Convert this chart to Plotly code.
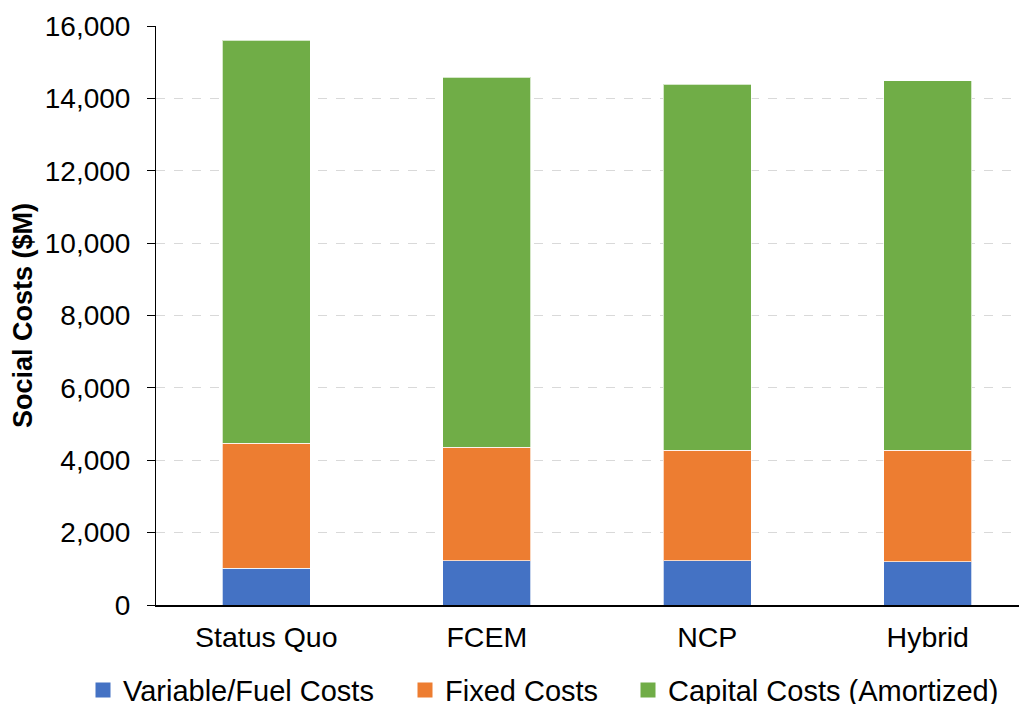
import plotly.graph_objects as go

categories = ["Status Quo", "FCEM", "NCP", "Hybrid"]
variable_fuel = [1015, 1225, 1225, 1190]
fixed_costs = [3455, 3135, 3050, 3085]
capital_costs = [11140, 10220, 10115, 10215]

series = [
    ("Variable/Fuel Costs", variable_fuel, "#4472C4"),
    ("Fixed Costs", fixed_costs, "#ED7D31"),
    ("Capital Costs (Amortized)", capital_costs, "#70AD47"),
]

FONT = "Liberation Sans, Arial, sans-serif"
# left edge of each legend entry's text, in figure pixels
legend_text_x = [115, 437, 660]
FIG_W, FIG_H = 1019, 696

fig = go.Figure()
for name, vals, color in series:
    fig.add_trace(go.Bar(
        name=name, x=categories, y=vals, showlegend=False,
        marker=dict(color=color, line=dict(color="rgba(255,255,255,0.7)", width=1)),
    ))

legend_keys = ["legend", "legend2", "legend3"]
for (name, vals, color), key in zip(series, legend_keys):
    fig.add_trace(go.Scatter(
        name=name, x=[None], y=[None], mode="markers",
        marker=dict(symbol="square", size=15, color=color),
        legend=key, showlegend=True, hoverinfo="skip",
    ))

layout_legends = {}
for key, tx in zip(legend_keys, legend_text_x):
    layout_legends[key] = dict(
        orientation="h", xref="container", yref="container",
        x=(tx - 40) / FIG_W, xanchor="left", y=0.02, yanchor="middle",
        font=dict(size=29, family=FONT, color="black"),
        bgcolor="rgba(0,0,0,0)", borderwidth=0,
    )

fig.update_layout(
    barmode="stack",
    bargap=0.6,
    width=FIG_W, height=FIG_H,
    margin=dict(l=148, r=0, t=18, b=99, autoexpand=False),
    plot_bgcolor="white", paper_bgcolor="white",
    font=dict(family=FONT, color="black", size=27),
    showlegend=True,
    **layout_legends,
)

fig.update_xaxes(
    range=[-0.5, 3.45], automargin=False,
    showline=True, linecolor="black", linewidth=1.5,
    ticks="", showgrid=False,
    tickfont=dict(size=28.5, family=FONT, color="black"),
    ticklabelstandoff=6,
)
fig.update_yaxes(
    range=[0, 16000], dtick=2000, tickformat=",", automargin=False,
    showline=True, linecolor="black", linewidth=1,
    ticks="outside", ticklen=8, tickcolor="black", tickwidth=1,
    showgrid=True, gridcolor="#d9d9d9", griddash="dash", gridwidth=1,
    zeroline=False,
    tickfont=dict(size=28, family=FONT, color="black"),
    ticklabelstandoff=11,
    title=dict(text="<b>Social Costs ($M)</b>", font=dict(size=27, family=FONT, color="black"), standoff=12),
)

fig.write_html("out.html")
